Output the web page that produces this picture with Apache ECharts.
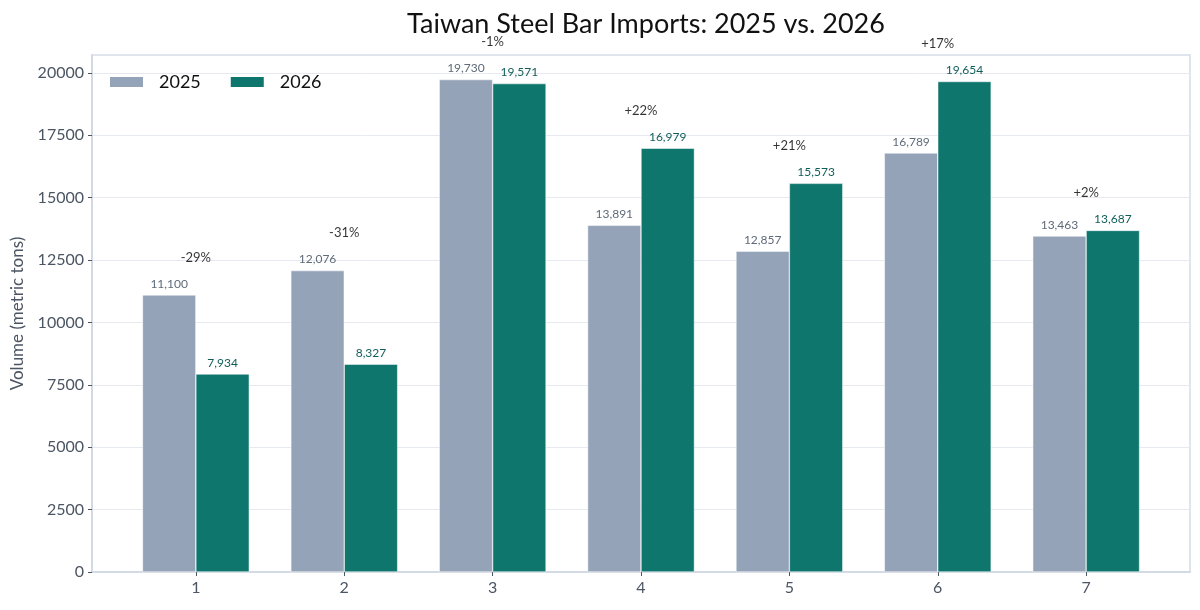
<!DOCTYPE html>
<html>
<head>
<meta charset="utf-8">
<script src="https://cdn.jsdelivr.net/npm/echarts@6/dist/echarts.min.js"></script>
<style>
html,body{margin:0;padding:0;background:#fff;}
#chart{width:1200px;height:610px;}
</style>
</head>
<body>
<div id="chart"></div>
<script>
const categories = [1, 2, 3, 4, 5, 6, 7];
const values2025 = [11100, 12076, 19730, 13891, 12857, 16789, 13463];
const values2026 = [7934, 8327, 19571, 16979, 15573, 19654, 13687];
const yTicks = [0, 2500, 5000, 7500, 10000, 12500, 15000, 17500, 20000];

const FONT = 'Lato, "DejaVu Sans", sans-serif';
const fmt = v => v.toLocaleString('en-US');

const pctData = categories.map((c, i) => {
  const p = Math.round((values2026[i] - values2025[i]) / values2025[i] * 100);
  return { value: [c, Math.max(values2025[i], values2026[i]) + 1500], pct: (p > 0 ? '+' : '') + p + '%' };
});

const chart = echarts.init(document.getElementById('chart'));
chart.setOption({
  animation: false,
  backgroundColor: '#ffffff',
  title: {
    text: 'Taiwan Steel Bar Imports: 2025 vs. 2026',
    left: 641, top: 6, textAlign: 'center',
    textStyle: { fontFamily: FONT, fontSize: 27, fontWeight: 'normal', color: '#111111' }
  },
  legend: {
    left: 108, top: 73, padding: 0,
    itemWidth: 35, itemHeight: 12, itemGap: 28,
    icon: 'rect',
    data: ['2025', '2026'],
    textStyle: { fontFamily: FONT, fontSize: 18, color: '#111111', padding: [0, 0, 0, 10] }
  },
  grid: {
    left: 92, right: 10, top: 55, bottom: 38,
    show: true, borderColor: '#d6dce6', borderWidth: 1.5
  },
  xAxis: {
    type: 'value', min: 0.3, max: 7.7,
    axisLine: { show: true, onZero: false, lineStyle: { color: '#cfd6e2', width: 1.5 } },
    axisTick: { show: true, customValues: categories, length: 4, lineStyle: { color: '#4b5563' } },
    axisLabel: { customValues: categories, fontFamily: FONT, fontSize: 16, color: '#4b5563', margin: 8 },
    splitLine: { show: false }
  },
  yAxis: {
    type: 'value', min: 0, max: 20716,
    name: 'Volume (metric tons)', nameLocation: 'middle', nameGap: 66, nameRotate: 90,
    nameTextStyle: { fontFamily: FONT, fontSize: 17, color: '#4b5563' },
    axisLine: { show: true, lineStyle: { color: '#cfd6e2', width: 1.5 } },
    axisTick: { show: true, customValues: yTicks, length: 4, lineStyle: { color: '#4b5563' } },
    axisLabel: { customValues: yTicks, fontFamily: FONT, fontSize: 16, color: '#4b5563', margin: 8,
      formatter: v => String(v) },
    splitLine: { show: true, customValues: yTicks, lineStyle: { color: '#e6e9ef', width: 1 } }
  },
  series: [
    {
      name: '2025', type: 'bar',
      data: categories.map((c, i) => [c, values2025[i]]),
      barWidth: '36%', barGap: '0%',
      itemStyle: { color: '#94a3b8', borderColor: '#ffffff', borderWidth: 0.5 },
      label: { show: true, position: 'top', distance: 5, fontFamily: FONT, fontSize: 12, color: '#5f6b7a',
        formatter: p => fmt(p.value[1]) }
    },
    {
      name: '2026', type: 'bar',
      data: categories.map((c, i) => [c, values2026[i]]),
      barWidth: '36%', barGap: '0%',
      itemStyle: { color: '#0f766e', borderColor: '#ffffff', borderWidth: 0.5 },
      label: { show: true, position: 'top', distance: 5, fontFamily: FONT, fontSize: 12, color: '#115e59',
        formatter: p => fmt(p.value[1]) }
    },
    {
      name: 'pct', type: 'scatter', clip: false, symbolSize: 1,
      itemStyle: { color: 'rgba(0,0,0,0)' },
      data: pctData,
      label: { show: true, position: 'inside', fontFamily: FONT, fontSize: 13, color: '#000000',
        formatter: p => p.data.pct },
      silent: true, z: 5
    }
  ]
});
</script>
</body>
</html>
